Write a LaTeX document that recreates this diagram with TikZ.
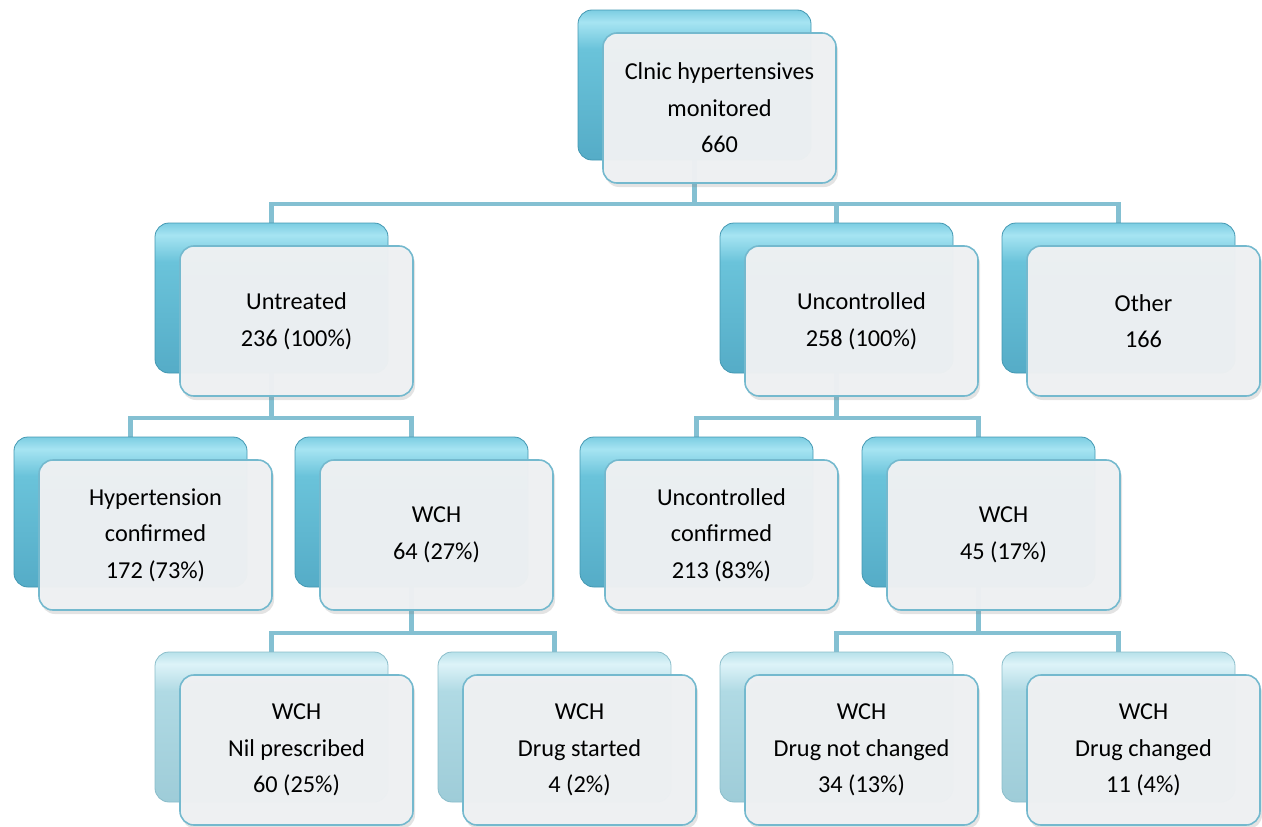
\documentclass[tikz,border=0pt]{standalone}
\usepackage{fontspec}
\setmainfont{Carlito}
\usetikzlibrary{shadows}
\definecolor{aBot}{HTML}{55ACC7}
\definecolor{aMid}{HTML}{6AC3DA}
\definecolor{aHi}{HTML}{A6E4F2}
\definecolor{aTop}{HTML}{7CCDE2}
\definecolor{aLine}{HTML}{4398B2}
\definecolor{bBot}{HTML}{9ECCD8}
\definecolor{bMid}{HTML}{B0DAE4}
\definecolor{bHi}{HTML}{DDF3F8}
\definecolor{bTop}{HTML}{B8E1EA}
\definecolor{bLine}{HTML}{8ABDCA}
\definecolor{frontFill}{HTML}{EFF1F3}
\definecolor{frontLine}{HTML}{74B9CE}
\definecolor{connCol}{HTML}{84C0D2}
\pgfdeclareverticalshading{shA}{100bp}{color(0bp)=(aBot); color(25bp)=(aBot); color(62bp)=(aMid); color(71bp)=(aHi); color(75bp)=(aTop); color(100bp)=(aTop)}
\pgfdeclareverticalshading{shB}{100bp}{color(0bp)=(bBot); color(25bp)=(bBot); color(62bp)=(bMid); color(71bp)=(bHi); color(75bp)=(bTop); color(100bp)=(bTop)}
\pgfdeclarelayer{bg}
\pgfsetlayers{bg,main}
\begin{document}
\begin{tikzpicture}[x=1pt,y=1pt,
  boxbase/.style={minimum width=233pt,minimum height=150pt,inner sep=0pt,rounded corners=14pt},
  backA/.style={boxbase,draw=aLine,line width=0.8pt,shading=shA},
  backB/.style={boxbase,draw=bLine,line width=0.8pt,shading=shB},
  front/.style={boxbase,draw=frontLine,line width=1.6pt,fill=frontFill,fill opacity=0.97,text opacity=1,
     align=center,font=\fontsize{24.3}{36.5}\selectfont,
     drop shadow={shadow xshift=2pt,shadow yshift=-4pt,opacity=0.22,fill=gray}},
  conn/.style={draw=connCol,line width=4.5pt}]
\useasboundingbox (0,0) rectangle (1262,-827);
% top
\node[backA] (topb) at (694.5,-85) {};
\node[front] (top) at ([shift={(25,-23)}]topb.center) {Clnic hypertensives\\monitored\\660};
% level 1
\node[backA] (untb) at (271.5,-298) {};
\node[front] (unt) at ([shift={(25,-23)}]untb.center) {Untreated\\236 (100\%)};
\node[backA] (uncb) at (836.5,-298) {};
\node[front] (unc) at ([shift={(25,-23)}]uncb.center) {Uncontrolled\\258 (100\%)};
\node[backA] (othb) at (1118.5,-298) {};
\node[front] (oth) at ([shift={(25,-23)}]othb.center) {Other\\166};
% level 2
\node[backA] (hypb) at (130.5,-512) {};
\node[front] (hyp) at ([shift={(25,-23)}]hypb.center) {Hypertension\\confirmed\\172 (73\%)};
\node[backA] (wcaB) at (411.5,-512) {};
\node[front] (wca) at ([shift={(25,-23)}]wcaB.center) {WCH\\64 (27\%)};
\node[backA] (uccb) at (696.5,-512) {};
\node[front] (ucc) at ([shift={(25,-23)}]uccb.center) {Uncontrolled\\confirmed\\213 (83\%)};
\node[backA] (wcbB) at (978.5,-512) {};
\node[front] (wcb) at ([shift={(25,-23)}]wcbB.center) {WCH\\45 (17\%)};
% level 3
\node[backB] (nilb) at (271.5,-727) {};
\node[front] (nil) at ([shift={(25,-23)}]nilb.center) {WCH\\Nil prescribed\\60 (25\%)};
\node[backB] (stab) at (554.5,-727) {};
\node[front] (sta) at ([shift={(25,-23)}]stab.center) {WCH\\Drug started\\4 (2\%)};
\node[backB] (ncgb) at (836.5,-727) {};
\node[front] (ncg) at ([shift={(25,-23)}]ncgb.center) {WCH\\Drug not changed\\34 (13\%)};
\node[backB] (chgb) at (1118.5,-727) {};
\node[front] (chg) at ([shift={(25,-23)}]chgb.center) {WCH\\Drug changed\\11 (4\%)};
% connectors
\begin{pgfonlayer}{bg}
\path (topb.center) ++(0,-119) coordinate (j0);
\path (untb.center) ++(0,-120) coordinate (j1);
\path (uncb.center) ++(0,-120) coordinate (j2);
\path (wcaB.center) ++(0,-121) coordinate (j3);
\path (wcbB.center) ++(0,-121) coordinate (j4);
\draw[conn] (topb.center) -- (j0) -| (untb.center);
\draw[conn] (j0) -| (uncb.center);
\draw[conn] (j0) -| (othb.center);
\draw[conn] (untb.center) -- (j1) -| (hypb.center);
\draw[conn] (j1) -| (wcaB.center);
\draw[conn] (uncb.center) -- (j2) -| (uccb.center);
\draw[conn] (j2) -| (wcbB.center);
\draw[conn] (wcaB.center) -- (j3) -| (nilb.center);
\draw[conn] (j3) -| (stab.center);
\draw[conn] (wcbB.center) -- (j4) -| (ncgb.center);
\draw[conn] (j4) -| (chgb.center);
\end{pgfonlayer}
\end{tikzpicture}
\end{document}
